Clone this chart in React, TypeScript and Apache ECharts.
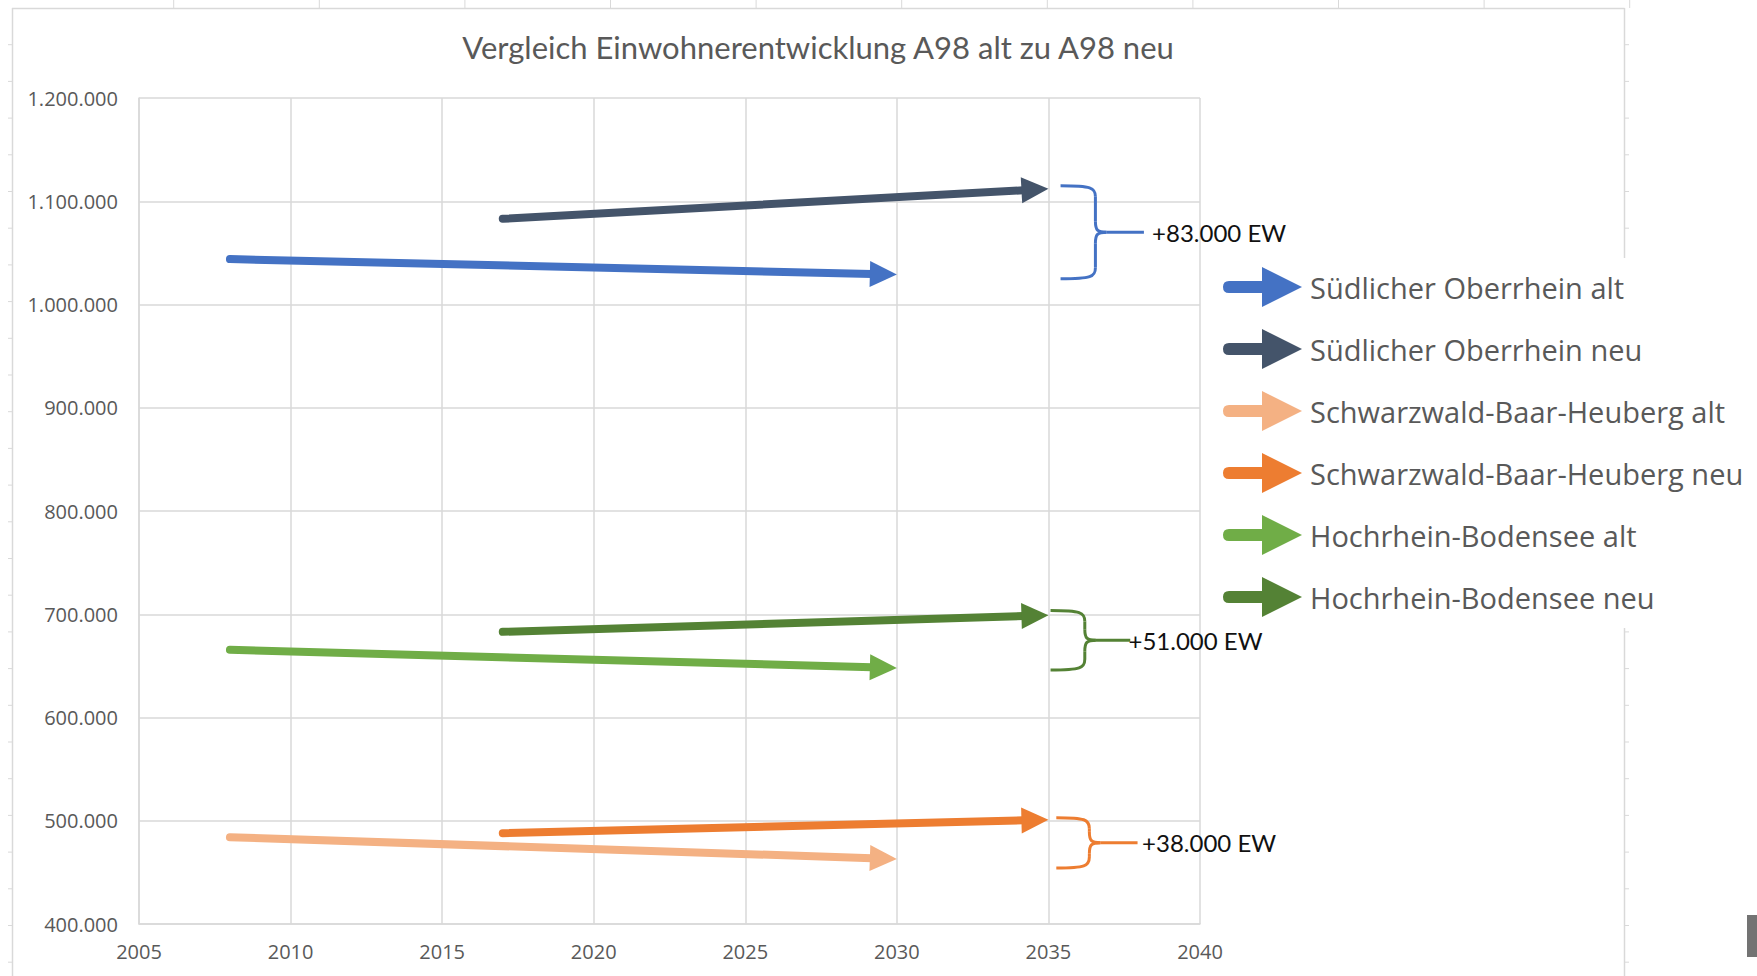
import React, { useEffect, useRef } from "react";
import * as echarts from "echarts";

// ---------- data ----------
const seriesNames = [
  "Südlicher Oberrhein alt",
  "Südlicher Oberrhein neu",
  "Schwarzwald-Baar-Heuberg alt",
  "Schwarzwald-Baar-Heuberg neu",
  "Hochrhein-Bodensee alt",
  "Hochrhein-Bodensee neu",
];
const seriesColors = ["#4472C4", "#44546A", "#F4B183", "#ED7D31", "#70AD47", "#548235"];
const startYears = [2008, 2017, 2008, 2017, 2008, 2017];
const endYears = [2030, 2035, 2030, 2035, 2030, 2035];
const startValues = [1044000, 1083000, 484000, 488000, 665500, 683000];
const endValues = [1029000, 1112000, 463000, 501000, 648000, 699000];

const braceLabels = ["+83.000 EW", "+51.000 EW", "+38.000 EW"];
const braceColors = ["#4472C4", "#548235", "#ED7D31"];
const braceEndYears = [2035.4, 2035.07, 2035.26];
const braceMidYears = [2036.55, 2036.2, 2036.35];
const braceTipYears = [2038.15, 2037.7, 2037.94];
const braceLabelYears = [2038.42, 2037.64, 2038.09];
const braceTops = [1115000, 703600, 503000];
const braceBottoms = [1025000, 646000, 454300];

const xMin = 2005, xMax = 2040, xStep = 5;
const yMin = 400000, yMax = 1200000, yStep = 100000;

const titleText = "Vergleich Einwohnerentwicklung A98 alt zu A98 neu";

const arrowIcon =
  "path://M6,14L39,14L39,0L79,20L39,40L39,26L6,26Q0,26,0,20Q0,14,6,14Z";

function fmtDe(v: number) {
  return String(v).replace(/\B(?=(\d{3})+(?!\d))/g, ".");
}

function arrowRender(color: string) {
  return (params: any, api: any) => {
    const p0 = api.coord([api.value(0), api.value(1)]);
    const p1 = api.coord([api.value(2), api.value(3)]);
    const dx = p1[0] - p0[0];
    const dy = p1[1] - p0[1];
    const len = Math.hypot(dx, dy) || 1;
    const ux = dx / len, uy = dy / len;
    const nx = -uy, ny = ux;
    const headLen = 27, headW = 13;
    const bx = p1[0] - ux * headLen, by = p1[1] - uy * headLen;
    return {
      type: "group",
      children: [
        {
          type: "line",
          shape: { x1: p0[0], y1: p0[1], x2: bx + ux * 2, y2: by + uy * 2 },
          style: { stroke: color, lineWidth: 8, lineCap: "round" },
        },
        {
          type: "polygon",
          shape: {
            points: [
              [p1[0], p1[1]],
              [bx + nx * headW, by + ny * headW],
              [bx - nx * headW, by - ny * headW],
            ],
          },
          style: { fill: color },
        },
      ],
    };
  };
}

function braceRender(params: any, api: any) {
  const i = params.dataIndex;
  const color = braceColors[i];
  const top = api.coord([api.value(0), api.value(3)]);
  const bot = api.coord([api.value(0), api.value(4)]);
  const mid = api.coord([api.value(1), (api.value(3) + api.value(4)) / 2]);
  const tip = api.coord([api.value(2), (api.value(3) + api.value(4)) / 2]);
  const x0 = top[0];
  const xm = mid[0];
  const yT = top[1], yB = bot[1], yM = mid[1];
  const r = 11;
  const st = { stroke: color, lineWidth: 3, fill: "none" };
  const lbl = api.coord([braceLabelYears[i], (api.value(3) + api.value(4)) / 2]);
  return {
    type: "group",
    children: [
      { type: "bezierCurve", shape: { x1: x0, y1: yT, x2: xm, y2: yT + r, cpx1: xm - 4, cpy1: yT, cpx2: xm, cpy2: yT + 2 }, style: st },
      { type: "line", shape: { x1: xm, y1: yT + r, x2: xm, y2: yM - r }, style: st },
      { type: "bezierCurve", shape: { x1: xm, y1: yM - r, x2: xm + r, y2: yM, cpx1: xm, cpy1: yM - 2, cpx2: xm + 2, cpy2: yM }, style: st },
      { type: "line", shape: { x1: xm + r, y1: yM, x2: tip[0], y2: yM }, style: st },
      { type: "bezierCurve", shape: { x1: xm + r, y1: yM, x2: xm, y2: yM + r, cpx1: xm + 2, cpy1: yM, cpx2: xm, cpy2: yM + 2 }, style: st },
      { type: "line", shape: { x1: xm, y1: yM + r, x2: xm, y2: yB - r }, style: st },
      { type: "bezierCurve", shape: { x1: xm, y1: yB - r, x2: x0, y2: yB, cpx1: xm, cpy1: yB - 2, cpx2: xm - 4, cpy2: yB }, style: st },
      {
        type: "text",
        x: lbl[0],
        y: lbl[1],
        style: {
          text: braceLabels[i],
          fill: "#111111",
          font: "24px Lato",
          align: "left",
          verticalAlign: "middle",
        },
      },
    ],
  };
}

export default function App() {
  const ref = useRef<HTMLDivElement>(null);
  useEffect(() => {
    if (!ref.current) return;
    const chart = echarts.init(ref.current, undefined, { renderer: "svg" });

    const border = "#D9D9D9";
    const graphics: any[] = [
      { type: "line", shape: { x1: 12, y1: 8.5, x2: 1624.5, y2: 8.5 }, style: { stroke: border, lineWidth: 1.5 } },
      { type: "line", shape: { x1: 12.5, y1: 8, x2: 12.5, y2: 976 }, style: { stroke: border, lineWidth: 1.5 } },
      { type: "line", shape: { x1: 1624.5, y1: 8, x2: 1624.5, y2: 258 }, style: { stroke: border, lineWidth: 1.5 } },
      { type: "line", shape: { x1: 1624.5, y1: 628, x2: 1624.5, y2: 976 }, style: { stroke: border, lineWidth: 1.5 } },
      { type: "rect", shape: { x: 1747, y: 915, width: 10, height: 42 }, style: { fill: "#737373" } },
      {
        type: "text",
        x: 818,
        y: 47,
        style: {
          text: titleText,
          fill: "#595959",
          font: "31px Lato",
          align: "center",
          verticalAlign: "middle",
        },
      },
    ];
    for (let k = 1; k < 27; k++) {
      const y = 8 + 36.7 * k;
      if (y < 258 || y > 628) {
        graphics.push({ type: "line", shape: { x1: 1624.5, y1: y, x2: 1629, y2: y }, style: { stroke: border, lineWidth: 1 } });
      }
      graphics.push({ type: "line", shape: { x1: 8, y1: y, x2: 12, y2: y }, style: { stroke: border, lineWidth: 1 } });
    }
    for (let k = 0; k < 11; k++) {
      const x = 173.7 + 145.6 * k;
      graphics.push({ type: "line", shape: { x1: x, y1: 0, x2: x, y2: 8 }, style: { stroke: border, lineWidth: 1 } });
    }

    const arrowSeries = seriesNames.map((name, i) => ({
      name,
      type: "custom",
      coordinateSystem: "cartesian2d",
      itemStyle: { color: seriesColors[i] },
      encode: { x: [0, 2], y: [1, 3] },
      data: [[startYears[i], startValues[i], endYears[i], endValues[i]]],
      renderItem: arrowRender(seriesColors[i]),
      z: 3,
    }));

    const braceSeries = {
      name: "Klammern",
      type: "custom",
      coordinateSystem: "cartesian2d",
      encode: { x: [0, 1, 2], y: [3, 4] },
      data: braceLabels.map((_, i) => [
        braceEndYears[i],
        braceMidYears[i],
        braceTipYears[i],
        braceTops[i],
        braceBottoms[i],
      ]),
      renderItem: braceRender,
      z: 4,
      silent: true,
    };

    chart.setOption({
      animation: false,
      backgroundColor: "#ffffff",
      grid: { left: 139, top: 98, width: 1061, height: 826, containLabel: false },
      xAxis: {
        type: "value",
        min: xMin,
        max: xMax,
        interval: xStep,
        axisLine: { show: true, lineStyle: { color: "#D9D9D9", width: 1.5 } },
        axisTick: { show: false },
        splitLine: { show: true, lineStyle: { color: "#D9D9D9", width: 1.5 } },
        axisLabel: {
          formatter: (v: number) => String(v),
          color: "#595959",
          fontFamily: "Open Sans",
          fontSize: 20,
          margin: 17,
        },
      },
      yAxis: {
        type: "value",
        min: yMin,
        max: yMax,
        interval: yStep,
        axisLine: { show: true, lineStyle: { color: "#D9D9D9", width: 1.5 } },
        axisTick: { show: false },
        splitLine: { show: true, lineStyle: { color: "#D9D9D9", width: 1.5 } },
        axisLabel: {
          formatter: (v: number) => fmtDe(v),
          color: "#595959",
          fontFamily: "Open Sans",
          fontSize: 20,
          margin: 21,
        },
      },
      legend: {
        orient: "vertical",
        left: 1223,
        top: 267,
        padding: 0,
        itemWidth: 79,
        itemHeight: 40,
        itemGap: 22,
        selectedMode: false,
        textStyle: {
          fontFamily: "Open Sans",
          fontSize: 29,
          color: "#595959",
          padding: [0, 0, 0, 3],
        },
        data: seriesNames.map((n) => ({ name: n, icon: arrowIcon })),
      },
      graphic: graphics,
      series: [...arrowSeries, braceSeries],
    });

    return () => chart.dispose();
  }, []);

  return (
    <div
      ref={ref}
      style={{ position: "absolute", left: 0, top: 0, width: 1757, height: 976, background: "#fff" }}
    />
  );
}
